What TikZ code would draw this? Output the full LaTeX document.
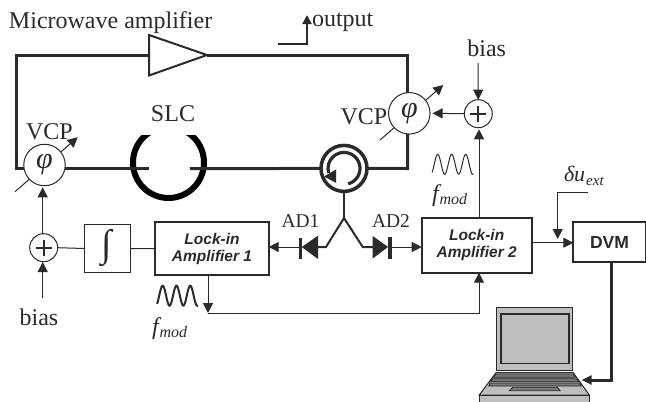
\documentclass[tikz,border=0pt]{standalone}
\usepackage{fontspec}
\setmainfont{Liberation Serif}
\setsansfont{Liberation Sans}
\usetikzlibrary{arrows.meta,calc}
\definecolor{ink}{HTML}{2A2A2A}
\definecolor{lapgray}{HTML}{BEBEBE}
\definecolor{keygray}{HTML}{777777}
\tikzset{x=1pt,y=-1pt,
 every node/.style={text=ink,inner sep=0pt,outer sep=0pt},
 loopline/.style={draw=ink,line width=3pt},
 sig/.style={draw=ink,line width=1pt},
 tip/.style={-{Triangle[length=10pt,width=10pt]}},
 circ/.style={circle,draw=ink,line width=1pt,fill=white,minimum size=#1},
 lab/.style={font=\fontsize{24}{26}\selectfont},
 adlab/.style={font=\fontsize{19.5}{22}\selectfont},
 phi/.style={font=\fontsize{30}{30}\selectfont\itshape},
 lockbox/.style={draw=ink,line width=2pt,fill=white,align=center,font=\sffamily\bfseries\itshape\fontsize{15.5}{17}\selectfont},
 lapline/.style={draw=ink,line width=1pt},
 keyrow/.style={draw=ink,line width=0.8pt,fill=keygray},
}
\newcommand{\fmodtext}{{\fontsize{24}{24}\selectfont\itshape f\kern1pt\raisebox{-3pt}{\fontsize{16}{16}\selectfont mod}}}
\begin{document}
\begin{tikzpicture}
\useasboundingbox (0,0) rectangle (646,402);
% anchor points behind the circles
\coordinate (vcpLc) at (44.5,168.7);
\coordinate (vcpRt) at (407.7,113);
\coordinate (vcpRb) at (407.7,168.5);
\coordinate (arrLa) at (15,191.7);
\coordinate (arrLb) at (77.7,137.3);
\coordinate (arrRa) at (380,140);
\coordinate (arrRb) at (443.3,85);
% SLC ring
\begin{scope}
\clip (120,135) rectangle (220,210);
\node[circle,draw=black,line width=6pt,minimum size=71pt] (slc) at (168.5,162.5) {};
\end{scope}
% circulator
\node[circle,draw=ink,line width=3.5pt,fill=white,minimum size=46pt] (cir) at (344,168.4) {};
\coordinate (gapL) at (149,168.7);
\coordinate (gapR) at (190,168.7);
% loop
\coordinate (ampin) at (149,55);
\coordinate (amptip) at (207,55);
\draw[loopline] (ampin) -- (16,55) -- (16,168.7) -- (vcpLc);
\draw[loopline] (vcpLc) -- (gapL);
\draw[loopline] (gapR) -- (cir.west);
\draw[loopline] (amptip) -- (407.7,55) -- (vcpRt);
\draw[loopline] (vcpRt) -- (vcpRb) -- (cir.east);
\draw[ink,line width=2pt,line join=miter,fill=white] (149,35) -- (amptip) -- (149,75.5) -- cycle;
\coordinate (outA) at (278,44);
\coordinate (outC) at (307,15);
\draw[draw=ink,line width=2pt,-{Triangle[length=9pt,width=9pt]}] (outA) -| (outC);
% circulator inner arrow
\draw[ink,line width=3.2pt] (cir.center) ++(75:16) arc[start angle=75,delta angle=-272,radius=16];
\fill[ink] (324,176.5) -- (336,169.5) -- (336,182.8) -- cycle;
% tuning arrows
\draw[ink,line width=1pt,tip] (arrLa) -- (arrLb);
\draw[ink,line width=1pt,tip] (arrRa) -- (arrRb);
% main nodes
\node[circ=41.5pt,phi] (vcpL) at (44.5,165) {φ};
\node[circ=41.5pt,phi] (vcpR) at (409.3,113.3) {φ};
\node[circ=28pt] (sumR) at (478.3,113.7) {};
\node[circ=28pt] (sumL) at (43.7,247.7) {};
\draw[ink,line width=2pt] (470.3,113.7) -- (486.3,113.7) (478.3,105.7) -- (478.3,121.7);
\draw[ink,line width=2pt] (35.7,247.7) -- (51.7,247.7) (43.7,239.7) -- (43.7,255.7);
\node[draw=ink,line width=1pt,minimum width=46pt,minimum height=48.4pt,font=\fontsize{38}{38}\selectfont] (int) at (107,248.5) {∫};
\node[lockbox,minimum width=113.4pt,minimum height=52.7pt] (li1) at (212,248.7) {Lock-in\\Amplifier 1};
\node[lockbox,minimum width=110pt,minimum height=55pt] (li2) at (476.7,245.2) {Lock-in\\Amplifier 2};
\node[draw=ink,line width=2pt,minimum width=72.4pt,minimum height=40pt,font=\sffamily\bfseries\fontsize{17.5}{20}\selectfont] (dvm) at (609.5,242.3) {DVM};
% labels
\node[lab,anchor=base west] (micro) at (9,28) {Microwave amplifier};
\node[lab,anchor=base west] (outl) at (312,26) {output};
\node[lab] (slcl) at (173,114) {SLC};
\node[lab] (vcpa) at (49.5,132) {VCP};
\node[lab] (vcpb) at (364,117) {VCP};
\node[lab] (biasa) at (486.7,48) {bias};
\node[lab] (biasb) at (39,317) {bias};
\node[adlab] (ad1l) at (300.5,221) {AD1};
\node[adlab] (ad2l) at (391,221) {AD2};
\node[anchor=base west] (fa) at (432,201) {\fmodtext};
\node[anchor=base west] (fb) at (152,334) {\fmodtext};
\node[anchor=base west] (du) at (564,181) {\fontsize{22}{22}\selectfont\itshape δu\kern1pt\raisebox{-4pt}{\fontsize{15}{15}\selectfont ext}};
% right-hand signal lines
\coordinate (biasRa) at (478,63);
\coordinate (biasLa) at (42.7,298);
\coordinate (liup) at (479,217.7);
\draw[sig,tip] (biasRa) -- (sumR.north);
\draw[sig,tip] (sumR.west) -- ([xshift=2.5pt]vcpR.east);
\draw[sig,tip] (liup) -- (479,129.3);
\draw[sig,tip] (sumL.north -| 42.7,0) -- (42.7,187.3);
\draw[sig,tip] (biasLa) -- (42.7,262);
\draw[sig] (sumL.east) -- (int.west);
\draw[sig] (int.east) -- (li1.west);
% sine waves
\draw[ink,line width=1pt,smooth] plot[domain=-0.15:2.8,samples=70] ({434.2+14*\x},{164.3-10*sin(360*\x)});
\draw[ink,line width=2pt,smooth] plot[domain=-0.15:2.8,samples=70] ({159.2+13.8*\x},{295.7-10*sin(360*\x)});
% modulation line
\coordinate (modD) at (208,313);
\draw[sig,tip] (li1.south -| modD) -- (modD);
\draw[sig,tip] (modD) -| (li2.south -| 479,0);
% diodes
\coordinate (stub) at (344,218);
\draw[ink,line width=2pt] (cir.south -| stub) -- (stub);
\draw[ink,line width=2pt] (318,247) -- (326,247) -- (stub) -- (362.7,247) -- (373,247);
\fill[ink] (318,235.7) -- (301.7,247) -- (318,259) -- cycle;
\fill[ink] (372.7,236) -- (388,247) -- (372.7,258.5) -- cycle;
\draw[ink,line width=3.5pt] (300.7,237.5) -- (300.7,258.5);
\draw[ink,line width=3.5pt] (390,236.5) -- (390,258.5);
\coordinate (d1) at (300.7,247);
\coordinate (d2) at (390,247);
\draw[sig,tip] (d1) -- (li1.east |- d1);
\draw[sig,tip] (d2) -- (li2.west |- d2);
% DVM links
\coordinate (duA) at (588.3,192.3);
\coordinate (duB) at (557.7,239);
\draw[sig,tip] (duA) -| (duB);
\coordinate (lo) at (531.7,242.7);
\draw[sig,tip] (lo) -- (dvm.west |- lo);
\coordinate (lapin) at (581.7,380);
\draw[ink,line width=3pt,-{Triangle[length=10pt,width=9pt]}] (dvm.south -| 611.7,0) |- (lapin);
% laptop
\fill[lapgray] (496.7,307.3) rectangle (572.7,370.7);
\draw[lapline] (496.7,307.3) rectangle (572.7,370.7);
\draw[ink,line width=1.5pt,fill=lapgray] (501,314) rectangle (569,363.3);
\draw[lapline,fill=lapgray] (496,372.7) -- (573.3,372.7) -- (589.3,395) -- (479.3,395) -- cycle;
\draw[lapline,fill=lapgray] (479.3,395) rectangle (589.3,403);
\draw[keyrow] (496,374) -- (573.3,374) -- (575.3,377.3) -- (493.3,377.3) -- cycle;
\draw[keyrow] (492.7,378.7) -- (576.7,378.7) -- (578.7,381.8) -- (490.7,381.8) -- cycle;
\draw[keyrow] (490,383) -- (579.3,383) -- (581.3,386) -- (488.7,386) -- cycle;
\draw[keyrow] (512.7,387.3) -- (557.3,387.3) -- (560,390.7) -- (509.3,390.7) -- cycle;
\end{tikzpicture}
\end{document}
